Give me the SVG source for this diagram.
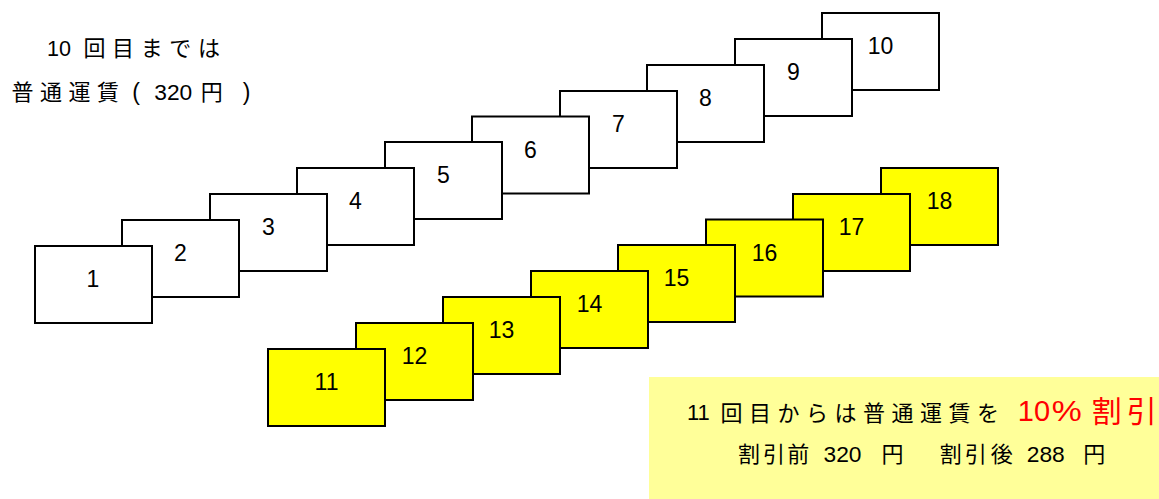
<svg xmlns="http://www.w3.org/2000/svg" width="1159" height="499" viewBox="0 0 1159 499">
<style>
.box{fill:#ffffff;stroke:#000000;stroke-width:2}
.ybox{fill:#ffff00;stroke:#000000;stroke-width:2}
.lbl{font-family:"Liberation Sans",Arial,sans-serif;font-size:23px;fill:#000000;text-anchor:middle}
.num{font-family:"Liberation Sans",Arial,sans-serif;font-size:22px;fill:#000000;text-anchor:middle}
.jp{font-family:"Noto Sans CJK JP","Noto Sans CJK SC",sans-serif;font-size:22px;fill:#000000;text-anchor:middle}
.big{font-size:29px}
.bigjp{font-size:30px}
.paren{font-size:23px}
.red{fill:#ff0000}
</style>
<rect width="1159" height="499" fill="#ffffff"/>
<g id="title">
<text class="num" x="59" y="56" textLength="24" lengthAdjust="spacingAndGlyphs">10</text>
<text class="jp" x="94.5 123.1 151.7 180.3 208.9" y="56">回目までは</text>
<text class="jp" x="22.5 51 79.5 108" y="100">普通運賃</text>
<text class="num paren" x="136" y="100">(</text>
<text class="num" x="173.3" y="100" textLength="38" lengthAdjust="spacingAndGlyphs">320</text>
<text class="jp" x="211.7" y="100">円</text>
<text class="num paren" x="246.7" y="100">)</text>
</g>
<g id="normal-fares">
<g id="box10"><rect class="box" x="822" y="13" width="117" height="77"/><text class="lbl" x="880.5" y="54">10</text></g>
<g id="box9"><rect class="box" x="735" y="39" width="117" height="77"/><text class="lbl" x="793.5" y="80">9</text></g>
<g id="box8"><rect class="box" x="647" y="65" width="117" height="77"/><text class="lbl" x="705.5" y="106">8</text></g>
<g id="box7"><rect class="box" x="560" y="91" width="117" height="77"/><text class="lbl" x="618.5" y="132">7</text></g>
<g id="box6"><rect class="box" x="472" y="116.5" width="117" height="77"/><text class="lbl" x="530.5" y="157.5">6</text></g>
<g id="box5"><rect class="box" x="385" y="142" width="117" height="77"/><text class="lbl" x="443.5" y="183">5</text></g>
<g id="box4"><rect class="box" x="297" y="168" width="117" height="77"/><text class="lbl" x="355.5" y="209">4</text></g>
<g id="box3"><rect class="box" x="210" y="194" width="117" height="77"/><text class="lbl" x="268.5" y="235">3</text></g>
<g id="box2"><rect class="box" x="122" y="220" width="117" height="77"/><text class="lbl" x="180.5" y="261">2</text></g>
<g id="box1"><rect class="box" x="35" y="246" width="117" height="77"/><text class="lbl" x="93" y="287">1</text></g>
</g>
<g id="discount-fares">
<g id="box18"><rect class="ybox" x="881" y="168" width="117" height="77"/><text class="lbl" x="939.5" y="209">18</text></g>
<g id="box17"><rect class="ybox" x="793" y="194" width="117" height="77"/><text class="lbl" x="851.5" y="235">17</text></g>
<g id="box16"><rect class="ybox" x="706" y="219.5" width="117" height="77"/><text class="lbl" x="764.5" y="260.5">16</text></g>
<g id="box15"><rect class="ybox" x="618" y="245" width="117" height="77"/><text class="lbl" x="676.5" y="286">15</text></g>
<g id="box14"><rect class="ybox" x="531" y="271" width="117" height="77"/><text class="lbl" x="589.5" y="312">14</text></g>
<g id="box13"><rect class="ybox" x="443" y="297" width="117" height="77"/><text class="lbl" x="501.5" y="338">13</text></g>
<g id="box12"><rect class="ybox" x="356" y="323" width="117" height="77"/><text class="lbl" x="414.5" y="364">12</text></g>
<g id="box11"><rect class="ybox" x="268" y="349" width="117" height="77"/><text class="lbl" x="326.5" y="390">11</text></g>
</g>
<g id="note">
<rect x="649" y="377" width="510" height="122" fill="#ffff99"/>
<text class="num" x="698.3" y="420">11</text>
<text class="jp" x="731.5 760 788.5 817 845.5 874 902.5 931 959.5 988" y="421">回目からは普通運賃を</text>
<text class="num big red" x="1034" y="421">10</text>
<text class="num big red" x="1066.7" y="421" textLength="30" lengthAdjust="spacingAndGlyphs">%</text>
<text class="jp bigjp red" x="1106.7 1141.7" y="422">割引</text>
<text class="jp" x="749 774 798.3" y="462">割引前</text>
<text class="num" x="842.5" y="462" textLength="38" lengthAdjust="spacingAndGlyphs">320</text>
<text class="jp" x="892.5" y="462">円</text>
<text class="jp" x="950.8 975.8 1001.7" y="462">割引後</text>
<text class="num" x="1045.8" y="462" textLength="38" lengthAdjust="spacingAndGlyphs">288</text>
<text class="jp" x="1094.2" y="462">円</text>
</g>
</svg>
